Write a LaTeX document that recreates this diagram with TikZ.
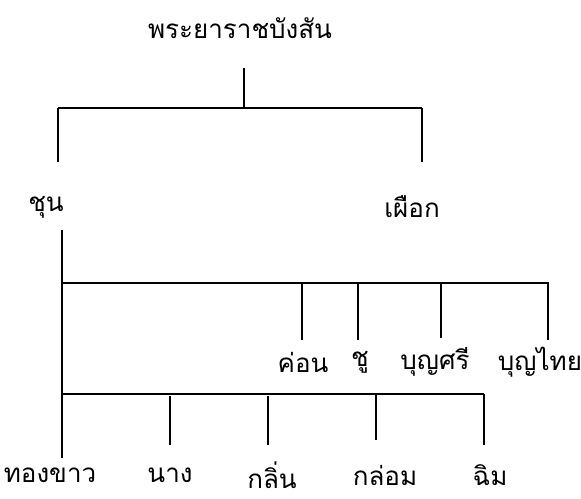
\documentclass[tikz,border=0pt]{standalone}
\usepackage{fontspec}
\newfontfamily\thaifont[Script=Thai]{Loma}

\begin{document}
\begin{tikzpicture}[x=0.5pt,y=-0.5pt,line width=1.2pt,
  every node/.style={font=\thaifont\fontsize{13}{15}\selectfont,inner sep=0pt}]
\useasboundingbox (0,0) rectangle (581,498);

\node (phraya) at (240,28) {พระยาราชบังสัน};

\coordinate (t0) at (244,68);
\coordinate (t1) at (244,108);
\coordinate (bl) at (58,108);
\coordinate (br) at (422,108);
\coordinate (bl1) at (58,162);
\coordinate (br1) at (422,162);

\draw (t0) -- (t1);
\draw (bl) -- (br);
\draw (bl) -- (bl1);
\draw (br) -- (br1);

\node (chun) at (46,207) {ชุน};
\node (phueak) at (412,207) {เผือก};

\coordinate (c0) at (62,230);
\coordinate (c1) at (62,458);
\coordinate (m0) at (62,283);
\coordinate (m1) at (549,283);
\coordinate (mb) at (62,394);
\coordinate (mb1) at (484,394);

\draw (c0) -- (c1);
\draw (m0) -- (m1);
\draw (mb) -- (mb1);

\coordinate (d1) at (302,283);
\coordinate (d2) at (358,283);
\coordinate (d3) at (441,283);
\coordinate (d4) at (548,283);
\coordinate (d1e) at (302,340);
\coordinate (d2e) at (358,340);
\coordinate (d3e) at (441,338);
\coordinate (d4e) at (548,340);

\draw (d1) -- (d1e);
\draw (d2) -- (d2e);
\draw (d3) -- (d3e);
\draw (d4) -- (d4e);

\node (khon) at (303,362) {ค่อน};
\node (chu) at (360,362) {ชู};
\node (bunsri) at (435,362) {บุญศรี};
\node (bunthai) at (540,362) {บุญไทย};

\coordinate (e1) at (170,396);
\coordinate (e2) at (268,396);
\coordinate (e3) at (376,394);
\coordinate (e4) at (484,394);
\coordinate (e1e) at (170,445);
\coordinate (e2e) at (268,445);
\coordinate (e3e) at (376,440);
\coordinate (e4e) at (484,445);

\draw (e1) -- (e1e);
\draw (e2) -- (e2e);
\draw (e3) -- (e3e);
\draw (e4) -- (e4e);

\node (thongkhao) at (50,475) {ทองขาว};
\node (nang) at (170,475) {นาง};
\node (klin) at (272,475) {กลิ่น};
\node (klom) at (385,475) {กล่อม};
\node (chim) at (490,475) {ฉิม};

\end{tikzpicture}
\end{document}
